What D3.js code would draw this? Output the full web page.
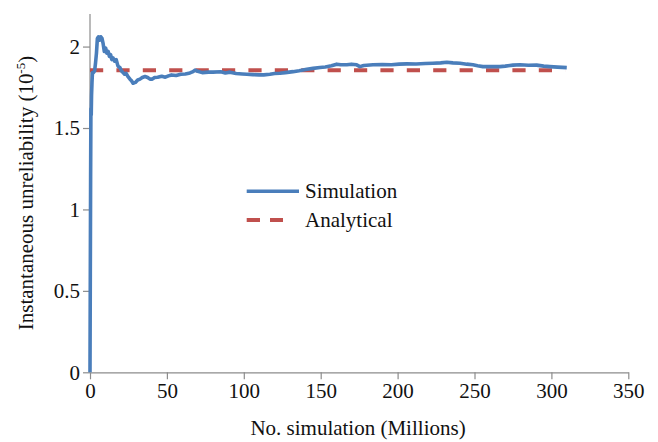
<!DOCTYPE html>
<html>
<head>
<meta charset="utf-8">
<script src="https://cdn.jsdelivr.net/npm/d3@7"></script>
<style>
  body { margin: 0; background: #fff; }
  svg { display: block; }
</style>
</head>
<body>
<svg id="chart"></svg>
<script>
// simulation curve, millions of runs vs unreliability (x10^-5)
const simRuns = [0, 0.2, 0.4, 0.6, 0.8, 1.0, 1.3, 1.6, 2.2, 3.0, 3.6, 4.2, 4.8, 5.5, 6.3, 7.0, 7.8, 8.5, 9.3, 10.2,
  10.9, 11.8, 12.6, 13.4, 14.2, 15, 16, 17, 18.2, 19.5, 20.5, 21.5, 22.5, 23.5, 24.7, 26, 27, 28, 29.5, 31,
  32.5, 34, 35.8, 37.5, 39, 40.5, 42, 44, 46.6, 49, 51, 53, 56, 59, 62, 65, 67, 68.3, 70, 73,
  77, 80, 85, 88, 91, 95, 99, 102, 106, 110, 113, 117, 120, 123.5, 127, 132, 136, 141, 145, 149.5,
  153, 157, 160.4, 163, 167, 170, 173.4, 175.5, 178, 184, 190, 196, 201, 206, 212, 218, 223, 228, 232, 236,
  240.6, 245, 249, 252, 255.5, 260, 266.6, 270, 275, 279.6, 285, 290.4, 295, 299, 304, 310]
const simValues = [0, 0.6, 1.2, 1.62, 1.58, 1.70, 1.78, 1.84, 1.84, 1.85, 1.90, 1.96, 2.05, 2.06, 2.04, 2.06, 2.05, 2.02, 1.97, 1.99,
  1.96, 1.97, 1.94, 1.95, 1.92, 1.93, 1.91, 1.92, 1.88, 1.87, 1.85, 1.84, 1.83, 1.835, 1.815, 1.80, 1.79, 1.775, 1.78, 1.795,
  1.80, 1.81, 1.816, 1.81, 1.80, 1.80, 1.81, 1.812, 1.818, 1.812, 1.82, 1.826, 1.822, 1.83, 1.832, 1.838, 1.846, 1.856, 1.848, 1.84,
  1.843, 1.843, 1.845, 1.838, 1.843, 1.835, 1.832, 1.83, 1.828, 1.826, 1.826, 1.83, 1.835, 1.836, 1.84, 1.846, 1.852, 1.861, 1.866, 1.871,
  1.875, 1.882, 1.892, 1.888, 1.888, 1.892, 1.888, 1.877, 1.884, 1.888, 1.89, 1.888, 1.892, 1.894, 1.893, 1.896, 1.898, 1.9, 1.904, 1.9,
  1.898, 1.892, 1.888, 1.882, 1.877, 1.878, 1.877, 1.88, 1.886, 1.888, 1.885, 1.886, 1.88, 1.877, 1.874, 1.871]

// analytical result is a flat line
const analyticalRuns = [0, 309]
const analyticalValues = [1.855, 1.855]

const xTicks = [0, 50, 100, 150, 200, 250, 300, 350]
const yTicks = [0, 0.5, 1, 1.5, 2]
const seriesNames = ['Simulation', 'Analytical']

//set up svg container
const width = 658
const height = 442
const plotLeft = 90, plotRight = 628.3, plotTop = 14, plotBottom = 372.3
const serif = "'Liberation Serif', 'Times New Roman', Tinos, 'Noto Serif', 'DejaVu Serif', FreeSerif, serif"
const fontSize = 21

const svg = d3.select('#chart')
              .attr('width', width)
              .attr('height', height)
              .style('font-family', serif)

//setting the scale
const xScale = d3.scaleLinear().domain([0, 350]).range([plotLeft, plotRight])
const yScale = d3.scaleLinear().domain([0, 2.2]).range([plotBottom, plotTop])

//setting the axes
const xAxis = d3.axisBottom(xScale).tickValues(xTicks).tickSize(7).tickPadding(4).tickSizeOuter(0)
const yAxis = d3.axisLeft(yScale).tickValues(yTicks).tickFormat(d => String(d))
                .tickSize(7).tickPadding(3).tickSizeOuter(0)

const gx = svg.append('g').attr('transform', `translate(0, ${plotBottom})`).call(xAxis)
const gy = svg.append('g').attr('transform', `translate(${plotLeft}, 0)`).call(yAxis)

// y axis line runs up to 2.2
gy.select('.domain').attr('d', `M0,${plotBottom}V${plotTop}`)

;[gx, gy].forEach(g => {
  g.attr('font-family', null).attr('font-size', fontSize)
  g.selectAll('.domain, .tick line').attr('stroke', '#8c8c8c').attr('stroke-width', 1.2)
  g.selectAll('.tick text').attr('fill', '#111')
})
gx.selectAll('.tick text').attr('dy', '0.71em')

//setting the lines
const line = d3.line().x(d => xScale(d[0])).y(d => yScale(d[1]))

svg.append('path')
   .datum(analyticalRuns.map((r, i) => [r, analyticalValues[i]]))
   .attr('d', line)
   .attr('fill', 'none')
   .attr('stroke', '#c0504d')
   .attr('stroke-width', 4)
   .attr('stroke-dasharray', '13.2,13.2')

svg.append('path')
   .datum(simRuns.map((r, i) => [r, simValues[i]]))
   .attr('d', line)
   .attr('fill', 'none')
   .attr('stroke', '#4a7ebb')
   .attr('stroke-width', 3.6)
   .attr('stroke-linejoin', 'round')

// legend
const legend = svg.append('g').attr('font-size', fontSize)
legend.append('line')
      .attr('x1', 246.7).attr('x2', 299).attr('y1', 191.3).attr('y2', 191.3)
      .attr('stroke', '#4a7ebb').attr('stroke-width', 3.6)
legend.append('line')
      .attr('x1', 246.7).attr('x2', 283).attr('y1', 220).attr('y2', 220)
      .attr('stroke', '#c0504d').attr('stroke-width', 4)
      .attr('stroke-dasharray', '13.3,10')
legend.selectAll('text')
      .data(seriesNames)
      .join('text')
      .attr('x', 305)
      .attr('y', (d, i) => 198 + i * 28.7)
      .attr('fill', '#111')
      .text(d => d)

// axis titles
svg.append('text')
   .attr('x', 358)
   .attr('y', 435)
   .attr('text-anchor', 'middle')
   .attr('fill', '#111')
   .attr('font-size', fontSize)
   .text('No. simulation (Millions)')

const yTitle = svg.append('text')
   .attr('transform', 'translate(33, 193) rotate(-90)')
   .attr('text-anchor', 'middle')
   .attr('fill', '#111')
   .attr('font-size', fontSize)
yTitle.append('tspan').text('Instantaneous unreliability (10')
yTitle.append('tspan').attr('dy', -8).attr('font-size', 13).text('-5')
yTitle.append('tspan').attr('dy', 8).text(')')
</script>
</body>
</html>
